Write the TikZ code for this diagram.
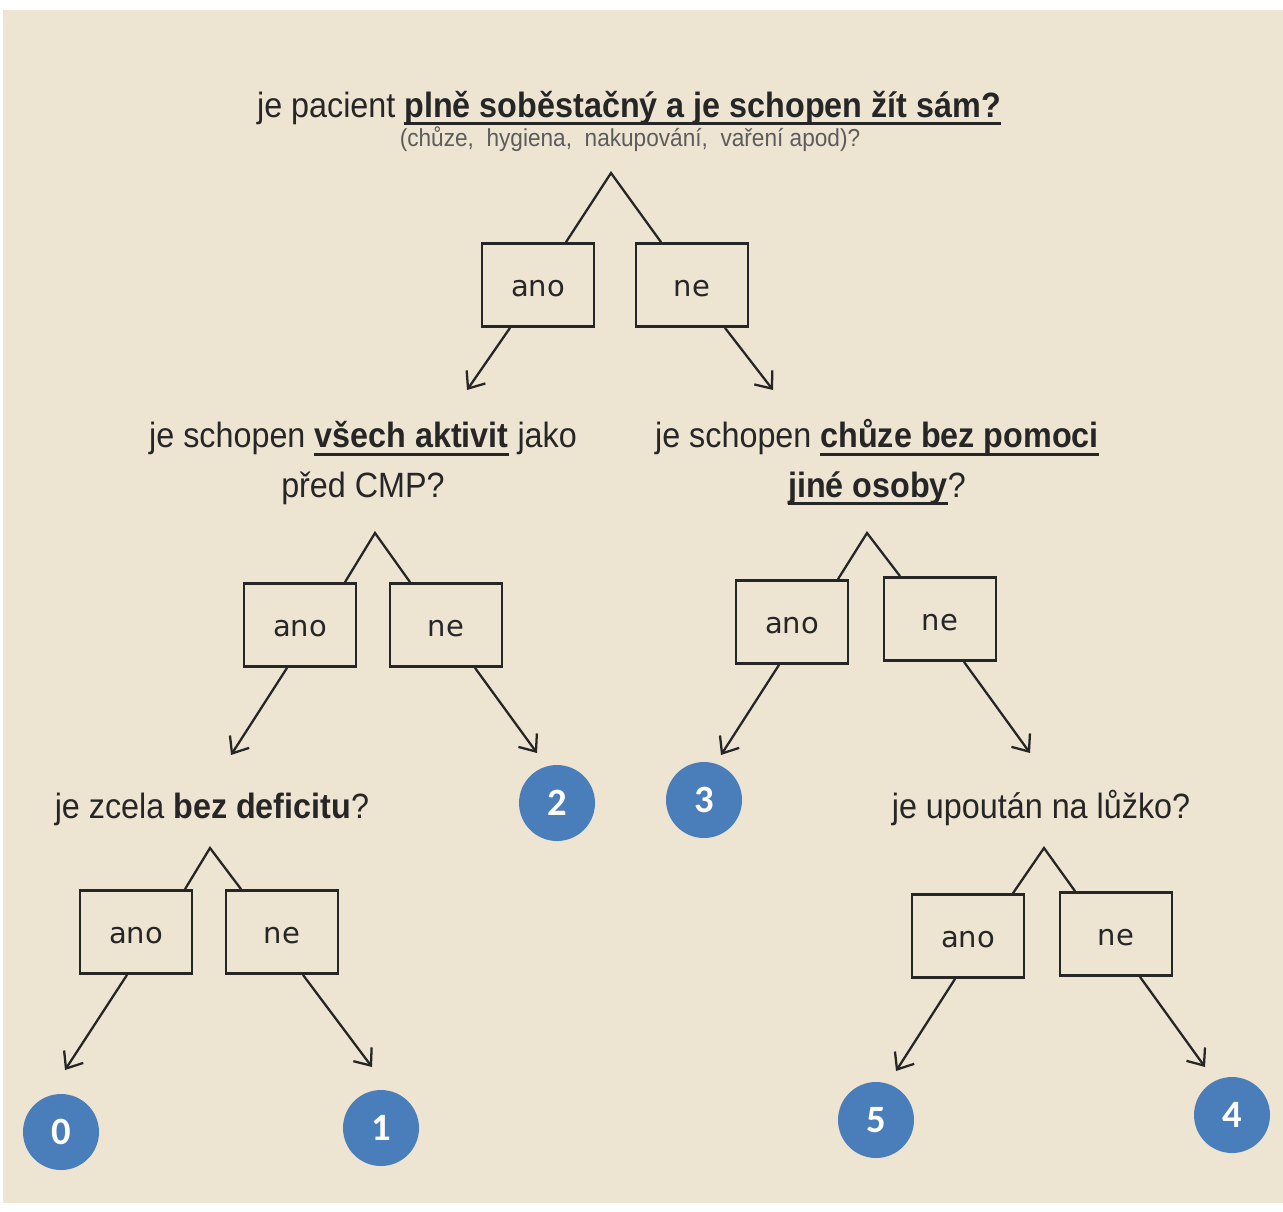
\documentclass[tikz,border=0pt]{standalone}
\usepackage{fontspec}
\setmainfont{Liberation Sans}
\newfontfamily\qfont[FakeStretch=0.92]{Liberation Sans}
\newfontfamily\boxfont{DejaVu Sans}
\newfontfamily\numfont{Carlito}
\usetikzlibrary{arrows.meta,calc}
\definecolor{paper}{HTML}{EEE4D2}
\definecolor{ink}{HTML}{262626}
\definecolor{dot}{HTML}{4A7EBB}
\newcommand{\undl}[1]{\leavevmode\setbox0\hbox{#1}\rlap{\rule[-4.5pt]{\wd0}{1.5pt}}\box0\relax}

\begin{document}
\begin{tikzpicture}[x=0.02cm,y=-0.02cm,
    question/.style={text=ink,align=center,anchor=base,font=\qfont\fontsize{20}{28}\selectfont},
    answer/.style={draw=ink,line width=1.6pt,fill=paper,minimum width=2.24cm,minimum height=1.66cm,
        text=ink,text height=13pt,font=\boxfont\fontsize{16.5}{20}\selectfont},
    result/.style={circle,fill=dot,text=white,minimum size=1.52cm,inner sep=0pt,
        font=\numfont\bfseries\fontsize{22}{22}\selectfont},
    link/.style={draw=ink,line width=1.3pt},
    arr/.style={link,-{Straight Barb[length=8pt,width=13pt]}}]

    \fill[white] (0,0) rectangle (1283,1211);
    \fill[paper] (3,10) rectangle (1283,1203);

    % otazky
    \node[question] (q0) at (629,117) {je pacient \undl{\textbf{plně soběstačný a je schopen žít sám?}}};
    \node[question,font=\qfont\fontsize{14}{16}\selectfont,text=ink!75] (q0s) at (630,146)
        {(chůze,\ \ hygiena,\ \ nakupování,\ \ vaření apod)?};
    \node[question] (q1) at (363,497) {je schopen \undl{\textbf{všech aktivit}} jako\\před CMP?};
    \node[question] (q2) at (877,497) {je schopen \undl{\textbf{chůze bez pomoci}}\\\undl{\textbf{jiné osoby}}?};
    \node[question] (q3) at (212,818) {je zcela \textbf{bez deficitu}?};
    \node[question] (q4) at (1041,818) {je upoután na lůžko?};

    % odpovedi
    \node[answer] (b0y) at (538,285) {ano};
    \node[answer] (b0n) at (692,285) {ne};
    \node[answer] (b1y) at (300,625) {ano};
    \node[answer] (b1n) at (446,625) {ne};
    \node[answer] (b2y) at (792,622) {ano};
    \node[answer] (b2n) at (940,619) {ne};
    \node[answer] (b3y) at (136,932) {ano};
    \node[answer] (b3n) at (282,932) {ne};
    \node[answer] (b4y) at (968,936) {ano};
    \node[answer] (b4n) at (1116,934) {ne};

    % vysledky
    \node[result] (r0) at (61,1132) {0};
    \node[result] (r1) at (381,1128) {1};
    \node[result] (r2) at (557,803) {2};
    \node[result] (r3) at (704,800) {3};
    \node[result] (r4) at (1232,1115) {4};
    \node[result] (r5) at (876,1120) {5};

    \coordinate (a0) at (611,173);
    \coordinate (a1) at (375,533);
    \coordinate (a2) at (867,533);
    \coordinate (a3) at (210,848);
    \coordinate (a4) at (1044,848);

    \coordinate (t0y) at (467,390);
    \coordinate (t0n) at (773,390);
    \coordinate (t1y) at (231,755);
    \coordinate (t1n) at (537,753);
    \coordinate (t2y) at (721,755);
    \coordinate (t2n) at (1030,753);
    \coordinate (t3y) at (65,1070);
    \coordinate (t3n) at (372,1067);
    \coordinate (t4y) at (896,1071);
    \coordinate (t4n) at (1205,1067);

    % strisky
    \draw[link] ($(b0y.north)+(28,0)$) -- (a0) -- ($(b0n.north)+(-31,0)$);
    \draw[link] ($(b1y.north)+(45,0)$) -- (a1) -- ($(b1n.north)+(-36,0)$);
    \draw[link] ($(b2y.north)+(46,0)$) -- (a2) -- ($(b2n.north)+(-40,0)$);
    \draw[link] ($(b3y.north)+(49,0)$) -- (a3) -- ($(b3n.north)+(-41,0)$);
    \draw[link] ($(b4y.north)+(45,0)$) -- (a4) -- ($(b4n.north)+(-41,0)$);

    % sipky
    \draw[arr] ($(b0y.south)+(-28,0)$) -- (t0y);
    \draw[arr] ($(b0n.south)+(33,0)$) -- (t0n);
    \draw[arr] ($(b1y.south)+(-13,0)$) -- (t1y);
    \draw[arr] ($(b1n.south)+(29,0)$) -- (t1n);
    \draw[arr] ($(b2y.south)+(-13,0)$) -- (t2y);
    \draw[arr] ($(b2n.south)+(24,0)$) -- (t2n);
    \draw[arr] ($(b3y.south)+(-9,0)$) -- (t3y);
    \draw[arr] ($(b3n.south)+(21,0)$) -- (t3n);
    \draw[arr] ($(b4y.south)+(-13,0)$) -- (t4y);
    \draw[arr] ($(b4n.south)+(24,0)$) -- (t4n);

\end{tikzpicture}
\end{document}
